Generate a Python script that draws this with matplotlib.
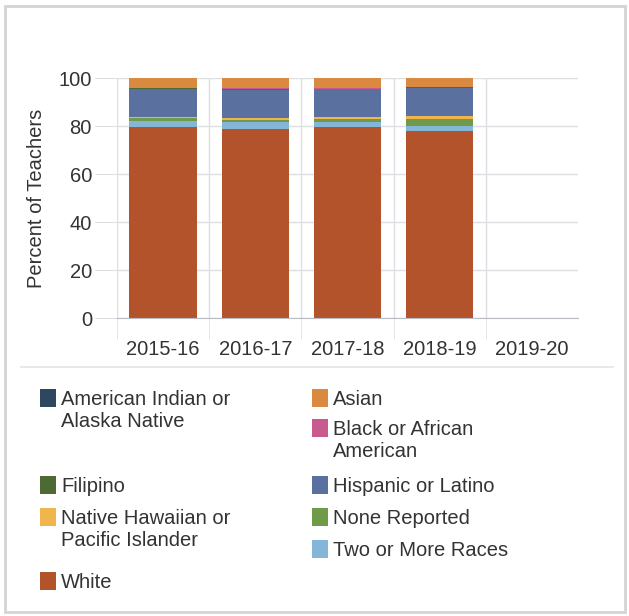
import numpy as np
import matplotlib.pyplot as plt
from matplotlib.patches import Rectangle
from matplotlib.lines import Line2D

plt.rcParams['font.family'] = ['Liberation Sans', 'DejaVu Sans']

# DATA
years = ["2015-16", "2016-17", "2017-18", "2018-19", "2019-20"]

# percent of teachers, stacked from the bottom up
white = [79.6, 78.8, 79.4, 77.9, 0]
two_or_more = [2.6, 2.7, 2.4, 2.2, 0]
none_reported = [1.2, 0.9, 1.3, 2.7, 0]
native_hawaiian = [0.5, 1.0, 0.8, 1.5, 0]
hispanic = [11.5, 11.7, 11.4, 11.5, 0]
filipino = [0.3, 0.3, 0.3, 0.3, 0]
black = [0.2, 0.3, 0.3, 0.2, 0]
asian = [4.0, 4.1, 3.9, 3.6, 0]
american_indian = [0.1, 0.2, 0.2, 0.1, 0]

stack = [white, two_or_more, none_reported, native_hawaiian, hispanic,
         filipino, black, asian, american_indian]
stack_colors = ["#b3532b", "#84b6d8", "#6f9a48", "#f0b54c", "#5a71a0",
                "#4e6a34", "#c95a90", "#d98a40", "#2f4660"]

legend_labels = ["American Indian or\nAlaska Native", "Asian",
                 "Black or African\nAmerican", "Filipino",
                 "Hispanic or Latino", "Native Hawaiian or\nPacific Islander",
                 "None Reported", "Two or More Races", "White"]
legend_colors = ["#2f4660", "#d98a40", "#c95a90", "#4e6a34", "#5a71a0",
                 "#f0b54c", "#6f9a48", "#84b6d8", "#b3532b"]

W, H = 629, 616
fig = plt.figure(figsize=(W / 100, H / 100), dpi=100)
ax = fig.add_axes([117 / W, 1 - 318 / H, 461 / W, 240 / H])

x = np.arange(len(years))
bottom = np.zeros(len(years))
for vals, col in zip(stack, stack_colors):
    vals = np.array(vals, dtype=float)
    ax.bar(x, vals, width=0.73, bottom=bottom, color=col, linewidth=0)
    bottom += vals

ax.set_xlim(-0.5, 4.5)
ax.set_ylim(0, 100)
ax.set_axisbelow(True)

grid_col = "#dcdfe4"
text_col = "#333333"
for s in ["top", "right", "left"]:
    ax.spines[s].set_visible(False)
ax.spines["bottom"].set_color("#b9bcc2")

ax.set_yticks([0, 20, 40, 60, 80, 100])
ax.tick_params(axis="y", length=16, color=grid_col, pad=2, labelsize=14.5,
               labelcolor=text_col)
ax.yaxis.grid(True, color=grid_col, lw=1)

ax.set_xticks(x)
ax.set_xticklabels(years)
ax.set_xticks(np.arange(-0.5, 4.0, 1.0), minor=True)
ax.tick_params(axis="x", which="major", length=0, pad=16, labelsize=14.5,
               labelcolor=text_col)
ax.tick_params(axis="x", which="minor", length=15, color=grid_col)
ax.xaxis.grid(True, which="minor", color=grid_col, lw=1)
ax.xaxis.grid(False, which="major")

ax.set_ylabel("Percent of Teachers", fontsize=14.5, color=text_col, labelpad=9)

# card border and separator
fig.patches.append(Rectangle((5 / W, 1 - 612 / H), 620 / W, 606 / H,
                             transform=fig.transFigure, fill=False,
                             edgecolor="#d4d4d4", lw=2))
fig.lines.append(Line2D([21 / W, 613 / W], [1 - 367 / H, 1 - 367 / H],
                        transform=fig.transFigure, color="#e4e4e4", lw=1.2))

# legend, placed by hand (two columns)
leg_pos = [(40, 398), (312, 398), (312, 428), (40, 485), (312, 485),
           (40, 517), (312, 517), (312, 549), (40, 581)]
for lab, col, (px, py) in zip(legend_labels, legend_colors, leg_pos):
    fig.patches.append(Rectangle((px / W, 1 - (py + 9) / H), 16 / W, 18 / H,
                                 transform=fig.transFigure, color=col,
                                 lw=0))
    for i, line in enumerate(lab.split("\n")):
        fig.text((px + 21) / W, 1 - (py + 7 + 22 * i) / H, line,
                 fontsize=14.5, color=text_col, va="baseline", ha="left")

fig.savefig("out.png", dpi=100)
